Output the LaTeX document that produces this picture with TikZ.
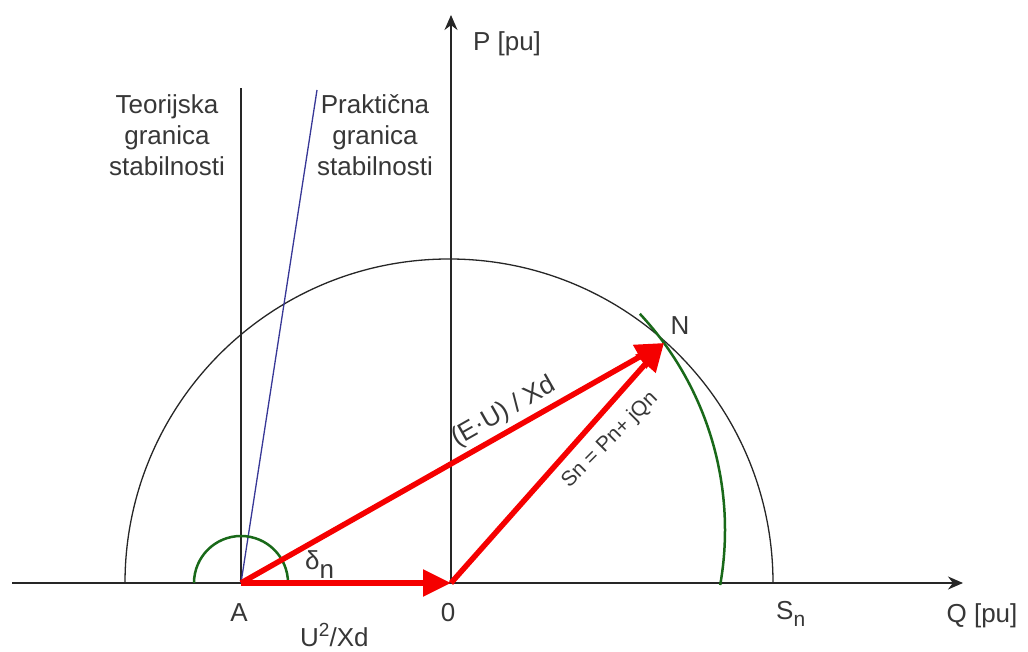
\documentclass[tikz,border=0pt]{standalone}
\usepackage{fontspec}
\setmainfont{Liberation Sans}
\usetikzlibrary{arrows.meta}
\definecolor{darkgreen}{RGB}{25,105,25}
\definecolor{limblue}{RGB}{55,55,150}
\definecolor{txt}{RGB}{55,55,55}
\definecolor{vecred}{RGB}{245,0,0}
\begin{document}
\begin{tikzpicture}[x=1pt,y=1pt,
  axis/.style={line width=1.5pt, draw=black!85, -{Stealth[length=15pt,width=13pt]}},
  thinline/.style={line width=1.3pt, draw=black!85},
  vec/.style={line width=5.5pt, draw=vecred, -{Triangle[length=28pt,width=26pt]}},
  arcg/.style={line width=2.5pt, draw=darkgreen},
  lbl/.style={font=\fontsize{26}{31}\selectfont, text=txt, inner sep=0pt},
  small/.style={font=\fontsize{21}{25}\selectfont, text=txt, inner sep=0pt}
]
\useasboundingbox (0,0) rectangle (1028,652);
% key points
\coordinate (A) at (241,69);
\coordinate (O) at (451,69);
\coordinate (N) at (664,309);
\coordinate (Hs) at (12,69);
\coordinate (He) at (963,69);
\coordinate (Ve) at (451,637);
\coordinate (Ttop) at (241,564);
\coordinate (Ptop) at (317,562);
\coordinate (Sn) at (773,69);

% axes
\draw[axis] (Hs) -- (He);
\draw[axis] (O) -- (Ve);

% big circle (S_n)
\draw[thinline] (Sn) arc[start angle=0, end angle=180, radius=324];

% stability limits
\draw[thinline] (A) -- (Ttop);
\draw[line width=1.3pt, draw=limblue] (A) -- (Ptop);

% green arcs
\draw[arcg] ([shift={(43:317)}]408,122) arc[start angle=43, end angle=-10, radius=317];
\draw[arcg] ([shift={(0:47)}]A) arc[start angle=0, end angle=180, radius=47];

% red vectors
\draw[vec] (A) -- (O);
\draw[vec] (O) -- (N);
\draw[vec] (A) -- (N);

% labels
\node[lbl] (lP) at (507,608) {P [pu]};
\node[lbl] (lQ) at (982,36) {Q [pu]};
\node[lbl] (lA) at (239,39) {A};
\node[lbl] (lO) at (448,39) {0};
\node[lbl, anchor=base west] (lS) at (776,32) {S\raisebox{-7pt}{\fontsize{21}{21}\selectfont n}};
\node[lbl, anchor=base west] (lU) at (300,5) {U\raisebox{10pt}{\fontsize{19}{19}\selectfont 2}/Xd};
\node[lbl, anchor=base west] (ld) at (305,82) {δ\raisebox{-9pt}{n}};
\node[lbl] (lN) at (680,326) {N};
\node[lbl, rotate=29.6] (lEU) at (504,240) {(E·U) / Xd};
\node[small, rotate=45] (lSn) at (610,212) {Sn = Pn+ jQn};
\node[lbl, align=center, font=\fontsize{26}{31}\selectfont] (lT) at (167,517) {Teorijska\\granica\\stabilnosti};
\node[lbl, align=center, font=\fontsize{26}{31}\selectfont] (lPr) at (375,517) {Praktična\\granica\\stabilnosti};
\end{tikzpicture}
\end{document}
